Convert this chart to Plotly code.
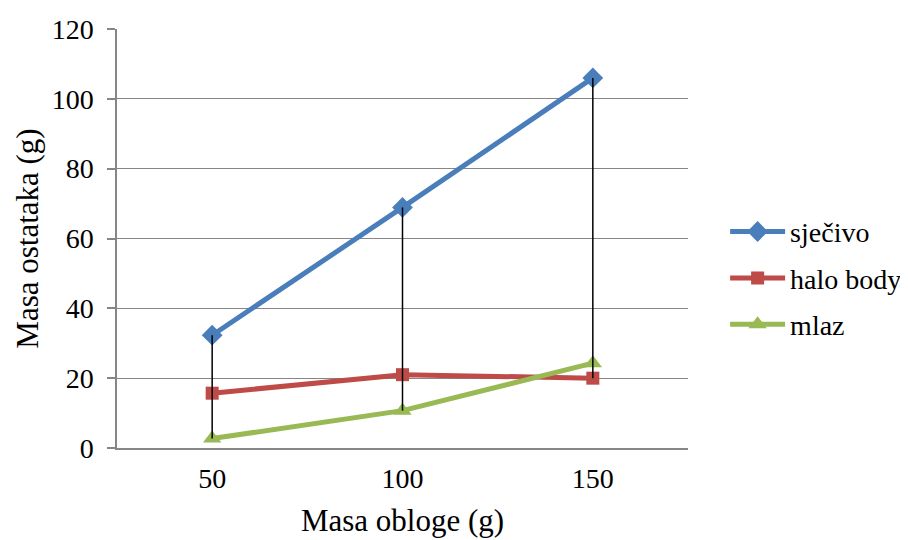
import plotly.graph_objects as go

categories = ["50", "100", "150"]
sjecivo = [32.3, 68.9, 106.0]
halo_body = [15.7, 21.0, 20.0]
mlaz = [2.7, 10.7, 24.3]
y_ticks = [0, 20, 40, 60, 80, 100, 120]

FONT = "Liberation Serif"

fig = go.Figure()
series = [
    ("sječivo", sjecivo, "#4A7EBB", "diamond", 16),
    ("halo body", halo_body, "#BE4B48", "square", 13),
    ("mlaz", mlaz, "#98B954", "triangle-up", 16),
]
for i, (name, vals, col, sym, size) in enumerate(series):
    fig.add_trace(go.Scatter(
        x=categories, y=vals, name=name, mode="lines+markers",
        line=dict(color=col, width=5),
        marker=dict(symbol=sym, size=size, color=col),
        legendgroup=f"g{i}",
    ))

# high-low lines derived from the series
hx, hy = [], []
for j, c in enumerate(categories):
    vals = [sjecivo[j], halo_body[j], mlaz[j]]
    hx += [c, c, None]
    hy += [max(vals), min(vals), None]
fig.add_trace(go.Scatter(x=hx, y=hy, mode="lines", line=dict(color="black", width=1.5),
                         showlegend=False, hoverinfo="skip"))

# page body has an 8px margin -> compensate
fig.update_layout(
    width=908, height=540,
    margin=dict(l=109, r=228, t=21, b=100, autoexpand=False),
    paper_bgcolor="white", plot_bgcolor="white",
    font=dict(family=FONT, size=28, color="black"),
    legend=dict(x=1.065, y=0.405, xanchor="left", yanchor="middle",
                font=dict(family=FONT, size=28, color="black"), tracegroupgap=7,
                itemwidth=55),
    showlegend=True,
)
fig.update_xaxes(
    type="category", range=[-0.5, 2.5],
    showline=True, linecolor="#868686", linewidth=1.5,
    showgrid=False, ticks="", ticklabelstandoff=5,
    tickfont=dict(family=FONT, size=28, color="black"),
    title=dict(text="Masa obloge (g)", font=dict(family=FONT, size=31, color="black"), standoff=16),
)
fig.update_yaxes(
    range=[0, 120], tickvals=y_ticks, ticktext=[str(v) for v in y_ticks],
    showline=True, linecolor="#868686", linewidth=1.5,
    showgrid=True, gridcolor="#868686", gridwidth=1.3,
    ticks="outside", ticklen=8, tickcolor="#868686", tickwidth=1.5,
    ticklabelstandoff=8,
    tickfont=dict(family=FONT, size=28, color="black"), zeroline=False,
    title=dict(text="Masa ostataka (g)", font=dict(family=FONT, size=31, color="black"), standoff=4),
)
fig.write_html("out.html")
